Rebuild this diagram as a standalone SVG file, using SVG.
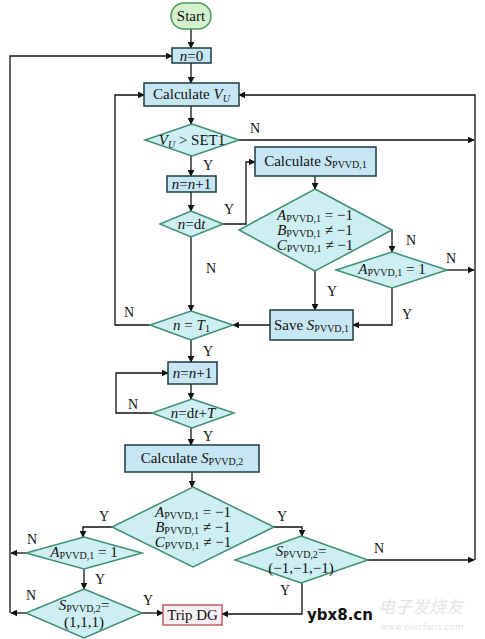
<svg xmlns="http://www.w3.org/2000/svg" width="485" height="639" viewBox="0 0 485 639">
<defs>
<marker id="ah" viewBox="0 0 10 10" refX="9" refY="5" markerWidth="7" markerHeight="7" orient="auto" markerUnits="userSpaceOnUse"><path d="M0,0 L10,5 L0,10 z" fill="#111"/></marker>
<style>
text{font-family:"Liberation Serif","Times New Roman",serif;fill:#111;}
.t{font-size:15px;text-anchor:middle;}
.l{font-size:14px;}
.sub{font-size:10px;}
.i{font-style:italic;}
.box{fill:#c6e6f3;stroke:#1d3b40;stroke-width:1.5;}
.dia{fill:#cdeef3;stroke:#3e8f72;stroke-width:1.5;}
.c{fill:none;stroke:#111;stroke-width:1.3;marker-end:url(#ah);}
</style>
</defs>
<rect width="485" height="639" fill="#fff"/>
<g id="connectors">
<path class="c" d="M191,29 V48"/>
<path class="c" d="M191,63 V83"/>
<path class="c" d="M191,106 V124"/>
<path class="c" d="M239,140 H474"/>
<path class="c" d="M191,156 V176"/>
<path class="c" d="M191,192 V211"/>
<path class="c" d="M223,224 H246 V162 H255"/>
<path class="c" d="M315,176 V189"/>
<path class="c" d="M392,230 V252"/>
<path class="c" d="M447,270 H474"/>
<path class="c" d="M315,271 V310"/>
<path class="c" d="M392,288 V325 H353"/>
<path class="c" d="M270,325 H233"/>
<path class="c" d="M191,237 V311"/>
<path class="c" d="M150,325 H115 V95 H144"/>
<path class="c" d="M191,340 V362"/>
<path class="c" d="M191,384 V399"/>
<path class="c" d="M152,413 H116 V373 H168"/>
<path class="c" d="M191,428 V445"/>
<path class="c" d="M192,472 V487"/>
<path class="c" d="M112,527 H83 V537"/>
<path class="c" d="M26,553 H11"/>
<path class="c" d="M84,569 V589"/>
<path class="c" d="M26,613 H11"/>
<path class="c" d="M142,613 H163"/>
<path class="c" d="M274,527 H302 V536"/>
<path class="c" d="M368,560 H474"/>
<path class="c" d="M302,583 V614 H222"/>
<path class="c" d="M10,613 V56 H172"/>
<path class="c" d="M475,560 V95 H239"/>
</g>
<g id="labels">
<text class="l" x="250" y="133">N</text>
<text class="l" x="203" y="170">Y</text>
<text class="l" x="224" y="214">Y</text>
<text class="l" x="406" y="245">N</text>
<text class="l" x="446" y="263">N</text>
<text class="l" x="327" y="296">Y</text>
<text class="l" x="402" y="319">Y</text>
<text class="l" x="206" y="273">N</text>
<text class="l" x="124" y="317">N</text>
<text class="l" x="203" y="356">Y</text>
<text class="l" x="128" y="409">N</text>
<text class="l" x="203" y="441">Y</text>
<text class="l" x="99" y="521">Y</text>
<text class="l" x="277" y="521">Y</text>
<text class="l" x="27" y="544">N</text>
<text class="l" x="95" y="584">Y</text>
<text class="l" x="26" y="600">N</text>
<text class="l" x="143" y="605">Y</text>
<text class="l" x="374" y="553">N</text>
<text class="l" x="280" y="595">Y</text>
</g>
<g id="start"><rect x="171" y="3" width="40" height="26" rx="13" fill="#d4f0cc" stroke="#4a9a5a" stroke-width="1.5"/><text class="t" x="191" y="21">Start</text></g>
<g id="n0"><rect class="box" x="172" y="48" width="39" height="15"/><text class="t" x="191.5" y="60.5"><tspan class="i">n</tspan>=0</text></g>
<g id="calcVU"><rect class="box" x="144" y="83" width="95" height="23"/><text class="t" x="191.5" y="99">Calculate <tspan class="i">V</tspan><tspan class="sub i" dy="3">U</tspan></text></g>
<g id="dVU"><polygon class="dia" points="192,124 239,140 192,156 145,140"/><text class="t" x="192" y="145"><tspan class="i">V</tspan><tspan class="sub i" dy="3">U</tspan><tspan dy="-3"> &gt; SET1</tspan></text></g>
<g id="inc1"><rect class="box" x="167" y="176" width="49" height="16"/><text class="t" x="191.5" y="189"><tspan class="i">n</tspan>=<tspan class="i">n</tspan>+1</text></g>
<g id="ddt"><polygon class="dia" points="191,211 223,224 191,237 160,224"/><text class="t" x="191.5" y="229"><tspan class="i">n</tspan>=d<tspan class="i">t</tspan></text></g>
<g id="calcS1"><rect class="box" x="255" y="147" width="121" height="29"/><text class="t" x="315.5" y="166">Calculate <tspan class="i">S</tspan><tspan class="sub" dy="2">PVVD,1</tspan></text></g>
<g id="dABC1"><polygon class="dia" points="315,189 392,230 315,271 239,230"/>
<text class="t" x="315" y="220"><tspan class="i">A</tspan><tspan class="sub" dy="2">PVVD,1</tspan><tspan dy="-2"> = −1</tspan></text>
<text class="t" x="315" y="235"><tspan class="i">B</tspan><tspan class="sub" dy="2">PVVD,1</tspan><tspan dy="-2"> ≠ −1</tspan></text>
<text class="t" x="315" y="250"><tspan class="i">C</tspan><tspan class="sub" dy="2">PVVD,1</tspan><tspan dy="-2"> ≠ −1</tspan></text></g>
<g id="dA1"><polygon class="dia" points="392,252 447,270 392,288 336,270"/><text class="t" x="392" y="274"><tspan class="i">A</tspan><tspan class="sub" dy="2">PVVD,1</tspan><tspan dy="-2"> = 1</tspan></text></g>
<g id="save"><rect class="box" x="270" y="310" width="83" height="30"/><text class="t" x="311.5" y="330">Save <tspan class="i">S</tspan><tspan class="sub" dy="2">PVVD,1</tspan></text></g>
<g id="dT1"><polygon class="dia" points="191,311 233,325 191,340 150,325"/><text class="t" x="191.5" y="330"><tspan class="i">n</tspan> = <tspan class="i">T</tspan><tspan class="sub" dy="2">1</tspan></text></g>
<g id="inc2"><rect class="box" x="168" y="362" width="49" height="22"/><text class="t" x="192.5" y="378"><tspan class="i">n</tspan>=<tspan class="i">n</tspan>+1</text></g>
<g id="ddtT"><polygon class="dia" points="192,399 234,413 192,428 152,413"/><text class="t" x="193" y="418"><tspan class="i">n</tspan>=d<tspan class="i">t</tspan>+<tspan class="i">T</tspan></text></g>
<g id="calcS2"><rect class="box" x="125" y="445" width="134" height="27"/><text class="t" x="192" y="463">Calculate <tspan class="i">S</tspan><tspan class="sub" dy="2">PVVD,2</tspan></text></g>
<g id="dABC2"><polygon class="dia" points="193,487 274,527 193,567 112,527"/>
<text class="t" x="193" y="517"><tspan class="i">A</tspan><tspan class="sub" dy="2">PVVD,1</tspan><tspan dy="-2"> = −1</tspan></text>
<text class="t" x="193" y="532"><tspan class="i">B</tspan><tspan class="sub" dy="2">PVVD,1</tspan><tspan dy="-2"> ≠ −1</tspan></text>
<text class="t" x="193" y="547"><tspan class="i">C</tspan><tspan class="sub" dy="2">PVVD,1</tspan><tspan dy="-2"> ≠ −1</tspan></text></g>
<g id="dA1b"><polygon class="dia" points="84,537 142,553 84,569 26,553"/><text class="t" x="84" y="557"><tspan class="i">A</tspan><tspan class="sub" dy="2">PVVD,1</tspan><tspan dy="-2"> = 1</tspan></text></g>
<g id="dS111"><polygon class="dia" points="84,589 142,613 84,638 26,613"/><text class="t" x="84" y="610"><tspan class="i">S</tspan><tspan class="sub" dy="2">PVVD,2</tspan><tspan dy="-2">=</tspan></text><text class="t" x="84" y="627">(1,1,1)</text></g>
<g id="dSm111"><polygon class="dia" points="301,536 368,560 301,583 235,560"/><text class="t" x="301" y="556"><tspan class="i">S</tspan><tspan class="sub" dy="2">PVVD,2</tspan><tspan dy="-2">=</tspan></text><text class="t" x="301" y="573">(−1,−1,−1)</text></g>
<g id="trip"><rect x="163" y="605" width="59" height="20" fill="#f6eef0" stroke="#c05a6a" stroke-width="1.5"/><text class="t" x="192.5" y="620">Trip DG</text></g>
<g id="watermark">
<text x="307" y="620" style="font-family:'DejaVu Sans',sans-serif;font-size:15px;font-weight:bold;fill:#111">ybx8.cn</text>
<text x="378" y="613" style="font-family:'Noto Sans CJK SC',sans-serif;font-size:17px;fill:#e4e4e4;font-style:italic">电子发烧友</text>
<text x="380" y="630" style="font-family:'DejaVu Sans',sans-serif;font-size:9px;fill:#e4e4e4">www.elecfans.com</text>
</g>
</svg>
